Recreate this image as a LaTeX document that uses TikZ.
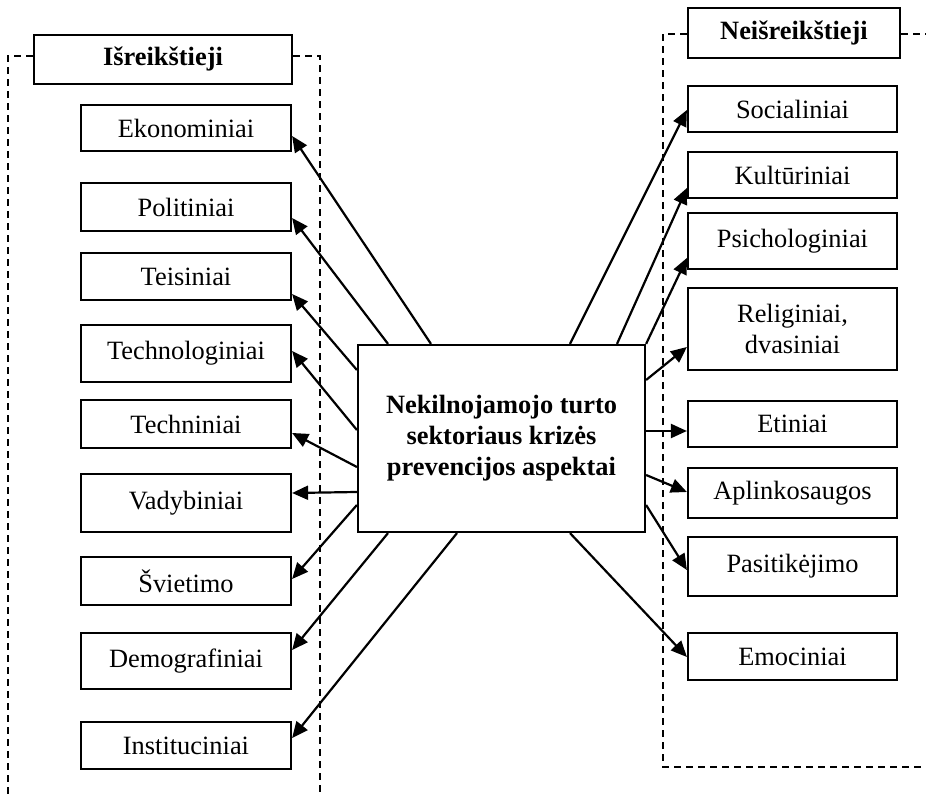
\documentclass[tikz,border=0pt]{standalone}
\usepackage{fontspec}
\setmainfont{Liberation Serif}
\usetikzlibrary{arrows.meta}
\begin{document}
\begin{tikzpicture}[x=0.5pt,y=-0.5pt,
  box/.style={draw,line width=1.1pt,fill=white,align=center,inner sep=0pt,font=\fontsize{13.2}{15.5}\selectfont},
  lbox/.style={box,minimum width=105pt},
  rbox/.style={box,minimum width=104.5pt},
  hdr/.style={box,font=\fontsize{13.2}{15.5}\selectfont\bfseries},
  arr/.style={line width=1.1pt,-{Triangle[length=8pt,width=7pt]}},
  frame/.style={line width=0.8pt,dash pattern=on 3.5pt off 2.5pt}]
\useasboundingbox (0,0) rectangle (926,796);

% headers
\node[hdr,minimum width=129pt,minimum height=24.5pt] (hl) at (163,59.5) {Išreikštieji};
\node[hdr,minimum width=106pt,minimum height=25pt] (hr) at (794,33) {Neišreikštieji};

% dashed frames
\draw[frame] (hl.west |- 0,56) -- (8,56) -- (8,796);
\draw[frame] (hl.east |- 0,56) -- (320,56) -- (320,796);
\draw[frame] (hr.west |- 0,34) -- (663,34) -- (663,767) -- (926,767);
\draw[frame] (hr.east |- 0,34) -- (926,34);

% left boxes
\node[lbox,minimum height=23pt] (eko) at (186,128) {Ekonominiai};
\node[lbox,minimum height=24pt] (pol) at (186,207) {Politiniai};
\node[lbox,minimum height=23.5pt] (tei) at (186,276.5) {Teisiniai};
\node[lbox,minimum height=28.5pt] (tech) at (186,353.5) {Technologiniai};
\node[lbox,minimum height=24pt] (techn) at (186,424) {Techniniai};
\node[lbox,minimum height=29pt] (vad) at (186,503) {Vadybiniai};
\node[lbox,minimum height=24pt] (svi) at (186,581) {Švietimo};
\node[lbox,minimum height=28pt] (dem) at (186,661) {Demografiniai};
\node[lbox,minimum height=23.5pt] (inst) at (186,745.5) {Instituciniai};

% right boxes
\node[rbox,minimum height=23pt] (soc) at (792.5,109) {Socialiniai};
\node[rbox,minimum height=23pt] (kul) at (792.5,175) {Kultūriniai};
\node[rbox,minimum height=28pt] (psi) at (792.5,241) {Psichologiniai};
\node[rbox,minimum height=41pt] (rel) at (792.5,329) {Religiniai,\\dvasiniai};
\node[rbox,minimum height=23pt] (eti) at (792.5,424) {Etiniai};
\node[rbox,minimum height=25pt] (apl) at (792.5,493) {Aplinkosaugos};
\node[rbox,minimum height=29.5pt] (pas) at (792.5,566.5) {Pasitikėjimo};
\node[rbox,minimum height=23.5pt] (emo) at (792.5,656.5) {Emociniai};

% center
\node[hdr,minimum width=143.5pt,minimum height=93.5pt] (c) at (501.5,438.5)
  {Nekilnojamojo turto\\sektoriaus krizės\\prevencijos aspektai};

% left arrows
\draw[arr] (c.north -| 431,0) -- (eko.east |- 0,136);
\draw[arr] (c.north -| 388,0) -- (pol.east |- 0,218);
\draw[arr] (c.west |- 0,370) -- (tei.east |- 0,294);
\draw[arr] (c.west |- 0,430) -- (tech.east |- 0,351);
\draw[arr] (c.west |- 0,467) -- (techn.east |- 0,433);
\draw[arr] (c.west |- 0,492) -- (vad.east |- 0,493);
\draw[arr] (c.west |- 0,505) -- (svi.east |- 0,579);
\draw[arr] (c.south -| 388,0) -- (dem.east |- 0,650);
\draw[arr] (c.south -| 457,0) -- (inst.east |- 0,738);

% right arrows
\draw[arr] (c.north -| 570,0) -- (soc.west |- 0,110);
\draw[arr] (c.north -| 617,0) -- (kul.west |- 0,188);
\draw[arr] (c.north east) -- (psi.west |- 0,258);
\draw[arr] (c.east |- 0,380) -- (rel.west |- 0,347);
\draw[arr] (c.east |- 0,431) -- (eti.west |- 0,431);
\draw[arr] (c.east |- 0,475) -- (apl.west |- 0,492);
\draw[arr] (c.east |- 0,505) -- (pas.west |- 0,570);
\draw[arr] (c.south -| 570,0) -- (emo.west |- 0,657);
\end{tikzpicture}
\end{document}
